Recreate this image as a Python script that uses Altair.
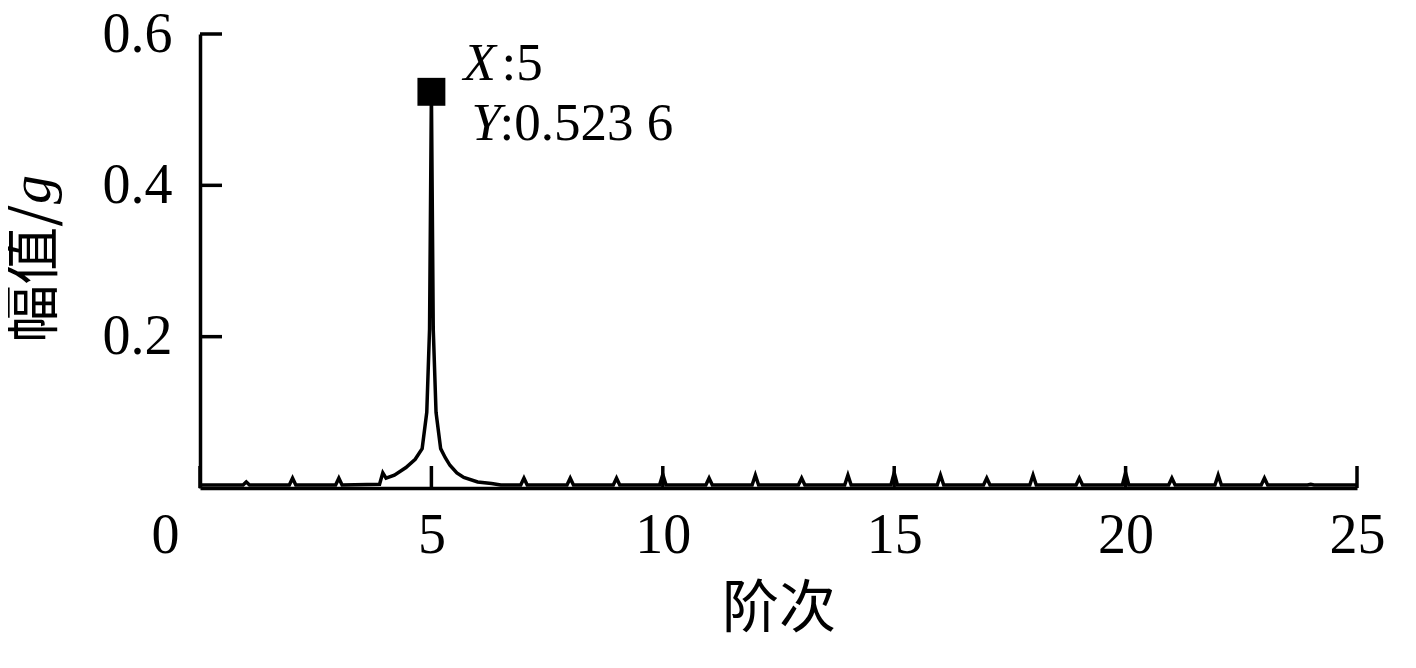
import altair as alt
import pandas as pd

# ---- data ----
order = [0, 0.93, 1, 1.07, 1.93, 2, 2.07, 2.93, 3, 3.07,
         3.88, 3.95, 4.02, 4.2, 4.45, 4.65, 4.8, 4.9, 4.96,
         5.0, 5.04, 5.1, 5.2, 5.3, 5.4, 5.55, 5.7, 6.0, 6.3, 6.5,
         6.93, 7, 7.07, 7.93, 8, 8.07, 8.93, 9, 9.07, 9.93, 10, 10.07,
         10.93, 11, 11.07, 11.93, 12, 12.07, 12.93, 13, 13.07, 13.93, 14, 14.07,
         14.93, 15, 15.07, 15.93, 16, 16.07, 16.93, 17, 17.07, 17.93, 18, 18.07,
         18.93, 19, 19.07, 19.93, 20, 20.07, 20.93, 21, 21.07, 21.93, 22, 22.07,
         22.93, 23, 23.07, 23.93, 24, 24.07, 25]
amplitude = [0.004, 0.004, 0.008, 0.004, 0.004, 0.013, 0.004, 0.004, 0.013, 0.004,
             0.005, 0.02, 0.013, 0.017, 0.027, 0.038, 0.052, 0.1, 0.21,
             0.5236, 0.21, 0.1, 0.052, 0.04, 0.03, 0.02, 0.014, 0.008, 0.006, 0.004,
             0.004, 0.013, 0.004, 0.004, 0.013, 0.004, 0.004, 0.013, 0.004, 0.004, 0.018, 0.004,
             0.004, 0.013, 0.004, 0.004, 0.017, 0.004, 0.004, 0.013, 0.004, 0.004, 0.017, 0.004,
             0.004, 0.02, 0.004, 0.004, 0.017, 0.004, 0.004, 0.013, 0.004, 0.004, 0.017, 0.004,
             0.004, 0.013, 0.004, 0.004, 0.02, 0.004, 0.004, 0.013, 0.004, 0.004, 0.017, 0.004,
             0.004, 0.013, 0.004, 0.004, 0.005, 0.004, 0.004]

x_ticks = [0, 5, 10, 15, 20, 25]
y_ticks = [0.2, 0.4, 0.6]
peak_x = [5]
peak_y = [0.5236]

W, H = 1157, 454
SERIF = "Liberation Serif"
CJK = "Noto Sans CJK SC"

df = pd.DataFrame({"order": order, "amp": amplitude})
xs = alt.Scale(domain=[0, 25], nice=False, zero=False)
ys = alt.Scale(domain=[0, 0.6], nice=False)

line = alt.Chart(df).mark_line(color="black", strokeWidth=3.5).encode(
    x=alt.X("order:Q", scale=xs, title="阶次",
            axis=alt.Axis(values=x_ticks, ticks=False, grid=False, domainColor="black",
                          domainWidth=3.5, labelFont=SERIF, labelFontSize=56,
                          labelColor="black", labelPadding=20, labelFlush=False,
                          labelOffset={"condition": {"test": "datum.value === 0", "value": -35}, "value": 0},
                          titleFont=CJK, titleFontSize=57, titleFontWeight="normal",
                          titleColor="black", titlePadding=18)),
    y=alt.Y("amp:Q", scale=ys, title=None,
            axis=alt.Axis(values=y_ticks, ticks=False, grid=False, domainColor="black",
                          domainWidth=3.5, labelFont=SERIF, labelFontSize=56,
                          labelColor="black", labelPadding=28, format=".1f")),
)

xt = alt.Chart(pd.DataFrame({"t": x_ticks})).mark_rule(color="black", strokeWidth=3.5).encode(
    x=alt.X("t:Q", scale=xs), y=alt.value(H), y2=alt.value(H - 22))
yt = alt.Chart(pd.DataFrame({"t": y_ticks})).mark_rule(color="black", strokeWidth=3.5).encode(
    y=alt.Y("t:Q", scale=ys), x=alt.value(0), x2=alt.value(22))

pk = pd.DataFrame({"x": peak_x, "y": peak_y})
marker = alt.Chart(pk).mark_point(shape="square", filled=True, color="black", size=780, opacity=1).encode(
    x=alt.X("x:Q", scale=xs), y=alt.Y("y:Q", scale=ys))

def ann(text, dx, dy, italic):
    return alt.Chart(pk).mark_text(text=text, font=SERIF, fontSize=53,
                                   fontStyle="italic" if italic else "normal",
                                   align="left", baseline="alphabetic", dx=dx, dy=dy,
                                   color="black").encode(
        x=alt.X("x:Q", scale=xs), y=alt.Y("y:Q", scale=ys))

a1 = ann("X", 32, -12, True)
a2 = ann(":5", 70, -12, False)
a3 = ann("Y", 40, 48, True)
a4 = ann(":0.523 6", 68, 48, False)

yl1 = alt.Chart(pk).mark_text(text="幅值/", font=CJK, fontSize=58, angle=270,
                              align="right", baseline="middle", color="black").encode(
    x=alt.value(-165), y=alt.value(170))
yl2 = alt.Chart(pk).mark_text(text="g", font=SERIF, fontSize=58, fontStyle="italic", angle=270,
                              align="left", baseline="middle", color="black").encode(
    x=alt.value(-167), y=alt.value(170))

chart = alt.layer(line, xt, yt, marker, a1, a2, a3, a4, yl1, yl2).properties(
    width=W, height=H,
    autosize=alt.AutoSizeParams(type="none"),
    padding={"left": 192, "top": 26, "right": 40, "bottom": 160},
).configure_view(stroke=None)

chart.save("out.html", embed_options={"renderer": "svg", "actions": False})
